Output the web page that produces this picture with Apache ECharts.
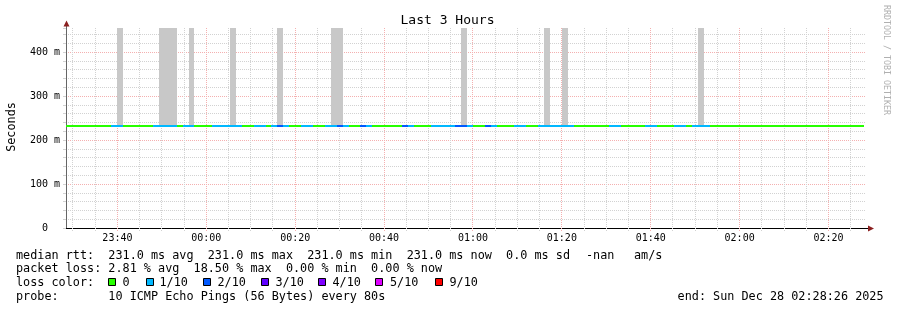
<!DOCTYPE html>
<html><head><meta charset="utf-8">
<script src="https://cdn.jsdelivr.net/npm/echarts@6/dist/echarts.min.js"></script>
<style>html,body{margin:0;padding:0;background:#fff}#c{width:897px;height:310px}</style>
</head><body><div id="c"></div>
<script>
// ---- data ----
const axisStart = '23:28:26';
const axisEnd = '02:28:26';
const firstSampleEnd = '23:29:20';
const stepSeconds = 80;
const xTickLabels = ['23:40','00:00','00:20','00:40','01:00','01:20','01:40','02:00','02:20'];
const yTickValues = [0, 100, 200, 300, 400];            // milliseconds
const yTickLabels = ['0\u00a0\u00a0', '100 m', '200 m', '300 m', '400 m'];
const yMaxMs = 454.5;
const medianMs = [
  231.0,231.0,231.0,231.0,231.0,231.0,231.0,231.0,231.0,231.0,231.0,231.0,231.0,231.0,231.0,
  231.0,231.0,231.0,231.0,231.0,231.0,231.0,231.0,231.0,231.0,231.0,231.0,231.0,231.0,231.0,
  231.0,231.0,231.0,231.0,231.0,231.0,231.0,231.0,231.0,231.0,231.0,231.0,231.0,231.0,231.0,
  231.0,231.0,231.0,231.0,231.0,231.0,231.0,231.0,231.0,231.0,231.0,231.0,231.0,231.0,231.0,
  231.0,231.0,231.0,231.0,231.0,231.0,231.0,231.0,231.0,231.0,231.0,231.0,231.0,231.0,231.0,
  231.0,231.0,231.0,231.0,231.0,231.0,231.0,231.0,231.0,231.0,231.0,231.0,231.0,231.0,231.0,
  231.0,231.0,231.0,231.0,231.0,231.0,231.0,231.0,231.0,231.0,231.0,231.0,231.0,231.0,231.0,
  231.0,231.0,231.0,231.0,231.0,231.0,231.0,231.0,231.0,231.0,231.0,231.0,231.0,231.0,231.0,
  231.0,231.0,231.0,231.0,231.0,231.0,231.0,231.0,231.0,231.0,231.0,231.0,231.0,231.0,231.0
];
const lossTenths = [
  0,0,0,0,0,0,0,0,1,1,
  0,0,0,0,0,1,1,1,1,0,
  1,1,0,0,0,1,1,1,1,1,
  0,0,1,1,0,1,2,1,0,0,
  1,1,0,0,1,1,2,1,0,0,
  2,1,0,0,0,0,0,2,1,0,
  0,0,1,1,1,1,2,2,1,0,
  0,2,1,0,0,0,1,1,0,0,
  1,1,1,1,1,1,0,0,0,0,
  0,0,1,1,0,0,0,0,1,1,
  0,0,0,1,1,0,1,1,1,0,
  0,0,0,0,0,0,0,0,0,0,
  0,0,0,0,0,0,0,0,0,0,
  0,0,0,0,0
];
const smokeSamples = [9, 16, 17, 18, 21, 28, 36, 45, 46, 67, 81, 84, 107];
const smokeTopMs   = [500,500,500,500,500,500,500,500,500,500,500,500,500];
const lossLevels = [0, 1, 2, 3, 4, 5, 9];
const lossLabels = ['0', '1/10', '2/10', '3/10', '4/10', '5/10', '9/10'];
const lossColors = ['#26ff00', '#00b8ff', '#0059ff', '#5e00ff', '#7e00ff', '#dd00ff', '#ff0000'];
const rttStats = ['231.0 ms avg', '231.0 ms max', '231.0 ms min', '231.0 ms now', '0.0 ms sd'];
const rttExtra = ['-nan', 'am/s'];
const lossStats = ['2.81 % avg', '18.50 % max', '0.00 % min', '0.00 % now'];
const probeText = '10 ICMP Echo Pings (56 Bytes) every 80s';
const endText = 'end: Sun Dec 28 02:28:26 2025';

// ---- helpers ----
function toSec(s) {
  const p = s.split(':').map(Number);
  let v = p[0] * 3600 + p[1] * 60 + (p[2] || 0);
  if (p[0] >= 12) v -= 86400;
  return v;
}
const xMin = toSec(axisStart), xMax = toSec(axisEnd);
const xTickValues = xTickLabels.map(toSec);
const t0 = toSec(firstSampleEnd);
const colorOfLoss = l => lossColors[lossLevels.indexOf(l)];

const lineData = medianMs.map((v, j) => [t0 + (j - 1) * stepSeconds, t0 + j * stepSeconds, v, lossTenths[j]]);
const smokeData = smokeSamples.map((j, i) => [t0 + (j - 1) * stepSeconds, t0 + j * stepSeconds, medianMs[j], smokeTopMs[i]]);
const gridData = [];
for (let t = Math.ceil(xMin / 300) * 300; t <= xMax; t += 300) gridData.push([t, 0, yMaxMs, Math.abs(t % 1200) === 0 ? 1 : 0]);

const MONO = '"DejaVu Sans Mono"';
const MAJOR = '#f4b0b0', MINOR = '#d2d2d2';

const graphics = [];
function txt(text, x, y, size, opts) {
  graphics.push(Object.assign({
    type: 'text', silent: true, x: x, y: y,
    style: Object.assign({ text: text, font: size + 'px ' + MONO, fill: '#000', align: 'left', verticalAlign: 'middle' }, opts && opts.style || {})
  }, opts && opts.el || {}));
}
txt('Last 3 Hours', 447.5, 21, 13, { style: { align: 'center' } });
txt('Seconds', 11.5, 127, 11.8, { style: { align: 'center' }, el: { rotation: Math.PI / 2 } });
txt('RRDTOOL / TOBI OETIKER', 886, 60, 8.3, { style: { align: 'center', fill: '#b0b0b0' }, el: { rotation: -Math.PI / 2 } });

const LF = 11.8;
txt('median rtt:  ' + rttStats.join('  '), 16, 255.5, LF);
txt(rttExtra[0], 586, 255.5, LF);
txt(rttExtra[1], 634, 255.5, LF);
txt('packet loss: ' + lossStats.join('  '), 16, 269.2, LF);
txt('loss color:', 16, 283, LF);
const boxX = [108, 146, 203, 261, 318, 375, 435];
const labX = [122.5, 159.5, 217.5, 275.5, 332.5, 390, 449.5];
lossLabels.forEach((lab, i) => {
  graphics.push({ type: 'rect', silent: true, shape: { x: boxX[i] + 0.5, y: 278.5, width: 7, height: 7 },
    style: { fill: lossColors[i], stroke: '#000', lineWidth: 1 } });
  txt(lab, labX[i], 283, LF);
});
txt('probe:       ' + probeText, 16, 297, LF);
txt(endText, 677.6, 297, LF);
// axis arrows
graphics.push({ type: 'line', silent: true, shape: { x1: 66.5, y1: 28, x2: 66.5, y2: 24 }, style: { stroke: '#666', lineWidth: 1 } });
graphics.push({ type: 'polygon', silent: true, shape: { points: [[63.5, 26.5], [66.5, 20.5], [69.5, 26.5]] }, style: { fill: '#8b2020' } });
graphics.push({ type: 'line', silent: true, shape: { x1: 866, y1: 228.5, x2: 869, y2: 228.5 }, style: { stroke: '#000', lineWidth: 1 } });
graphics.push({ type: 'polygon', silent: true, shape: { points: [[868, 225.5], [874, 228.5], [868, 231.5]] }, style: { fill: '#8b2020' } });

const chart = echarts.init(document.getElementById('c'), null, { renderer: 'canvas' });
chart.setOption({
  animation: false,
  backgroundColor: '#ffffff',
  grid: { left: 66, right: 31, top: 28, bottom: 82, containLabel: false },
  xAxis: {
    type: 'value', min: xMin, max: xMax,
    axisLine: { show: true, onZero: false, lineStyle: { color: '#000', width: 1 } },
    axisTick: { show: false },
    splitLine: { show: false },
    axisLabel: {
      customValues: xTickValues,
      formatter: v => xTickLabels[xTickValues.indexOf(v)] || '',
      fontFamily: MONO, fontSize: 10, color: '#000', margin: 5
    }
  },
  yAxis: {
    type: 'value', min: 0, max: yMaxMs, interval: 20,
    axisLine: { show: true, onZero: false, lineStyle: { color: '#666', width: 1 } },
    axisTick: { show: true, length: 3, lineStyle: { color: MINOR } },
    axisLabel: {
      customValues: yTickValues,
      formatter: v => yTickLabels[yTickValues.indexOf(v)] || '',
      fontFamily: MONO, fontSize: 10, color: '#000', margin: 6, padding: [3, 0, 0, 0]
    },
    splitLine: { show: true, showMaxLine: false, lineStyle: { color: [MAJOR, MINOR, MINOR, MINOR, MINOR], type: [1, 1], width: 1 } }
  },
  series: [
    {
      type: 'custom', name: 'grid', z: 1, silent: true, clip: false,
      encode: { x: 0, y: [1, 2] },
      data: gridData,
      renderItem: (params, api) => {
        const b = api.coord([api.value(0), api.value(1)]);
        const t = api.coord([api.value(0), api.value(2)]);
        const x = Math.floor(b[0]) + 0.5;
        return { type: 'line', shape: { x1: x, y1: t[1], x2: x, y2: b[1] + 3 },
          style: { stroke: api.value(3) ? MAJOR : MINOR, lineWidth: 1, lineDash: [1, 1] } };
      }
    },
    {
      type: 'custom', name: 'smoke', z: 2, silent: true, clip: true,
      encode: { x: [0, 1], y: [2, 3] },
      data: smokeData,
      renderItem: (params, api) => {
        const a = api.coord([api.value(0), api.value(2)]);
        const b = api.coord([api.value(1), api.value(3)]);
        const x1 = Math.round(a[0]), x2 = Math.round(b[0]);
        const yb = Math.round(a[1]);
        return { type: 'rect', shape: { x: x1, y: b[1], width: x2 - x1, height: yb - b[1] }, style: { fill: '#c8c8c8' } };
      }
    },
    {
      type: 'custom', name: 'median rtt', z: 3, silent: true, clip: true,
      encode: { x: [0, 1], y: 2 },
      data: lineData,
      renderItem: (params, api) => {
        const a = api.coord([api.value(0), api.value(2)]);
        const b = api.coord([api.value(1), api.value(2)]);
        const x1 = Math.round(a[0]), x2 = Math.round(b[0]);
        const y = Math.round(a[1]) - 1;
        return { type: 'rect', shape: { x: x1, y: y, width: x2 - x1, height: 2 }, style: { fill: colorOfLoss(api.value(3)) } };
      }
    }
  ],
  graphic: graphics
});
</script></body></html>
